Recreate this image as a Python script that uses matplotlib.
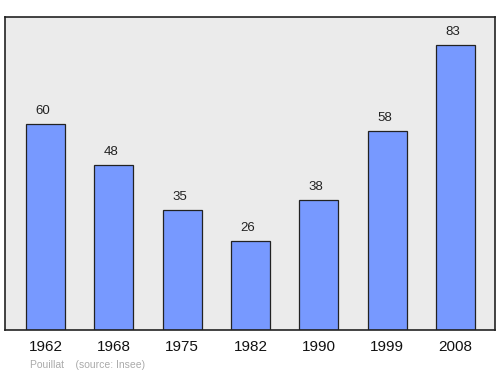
import matplotlib
matplotlib.use('Agg')
import matplotlib.pyplot as plt

plt.rcParams['font.family'] = ['Liberation Sans', 'DejaVu Sans']

years = ['1962', '1968', '1975', '1982', '1990', '1999', '2008']
population = [60, 48, 35, 26, 38, 58, 83]

fig = plt.figure(figsize=(5, 3.74), dpi=100)
ax = fig.add_axes([0.01, 0.1176, 0.98, 0.8369])
ax.set_facecolor('#ebebeb')

pos = list(range(len(years)))
ax.bar(pos, population, width=0.57, color='#7799ff', edgecolor='#222222', linewidth=0.9)

for x, v in zip(pos, population):
    ax.annotate(str(v), (x, v), xytext=(-2, 5), textcoords='offset points',
                ha='center', va='bottom', fontsize=9.5, color='#222222')

ax.set_xlim(-0.593, 6.578)
ax.set_ylim(0, 91.2)
ax.set_xticks(pos)
ax.set_xticklabels(years, fontsize=11, color='#111111')
ax.tick_params(axis='x', length=0, pad=7)
ax.set_yticks([])
for s in ax.spines.values():
    s.set_color('#222222')
    s.set_linewidth(1.2)

fig.text(0.06, 0.016, 'Pouillat    (source: Insee)', fontsize=7.5, color='#aaaaaa')

fig.savefig('out.png', dpi=100)
